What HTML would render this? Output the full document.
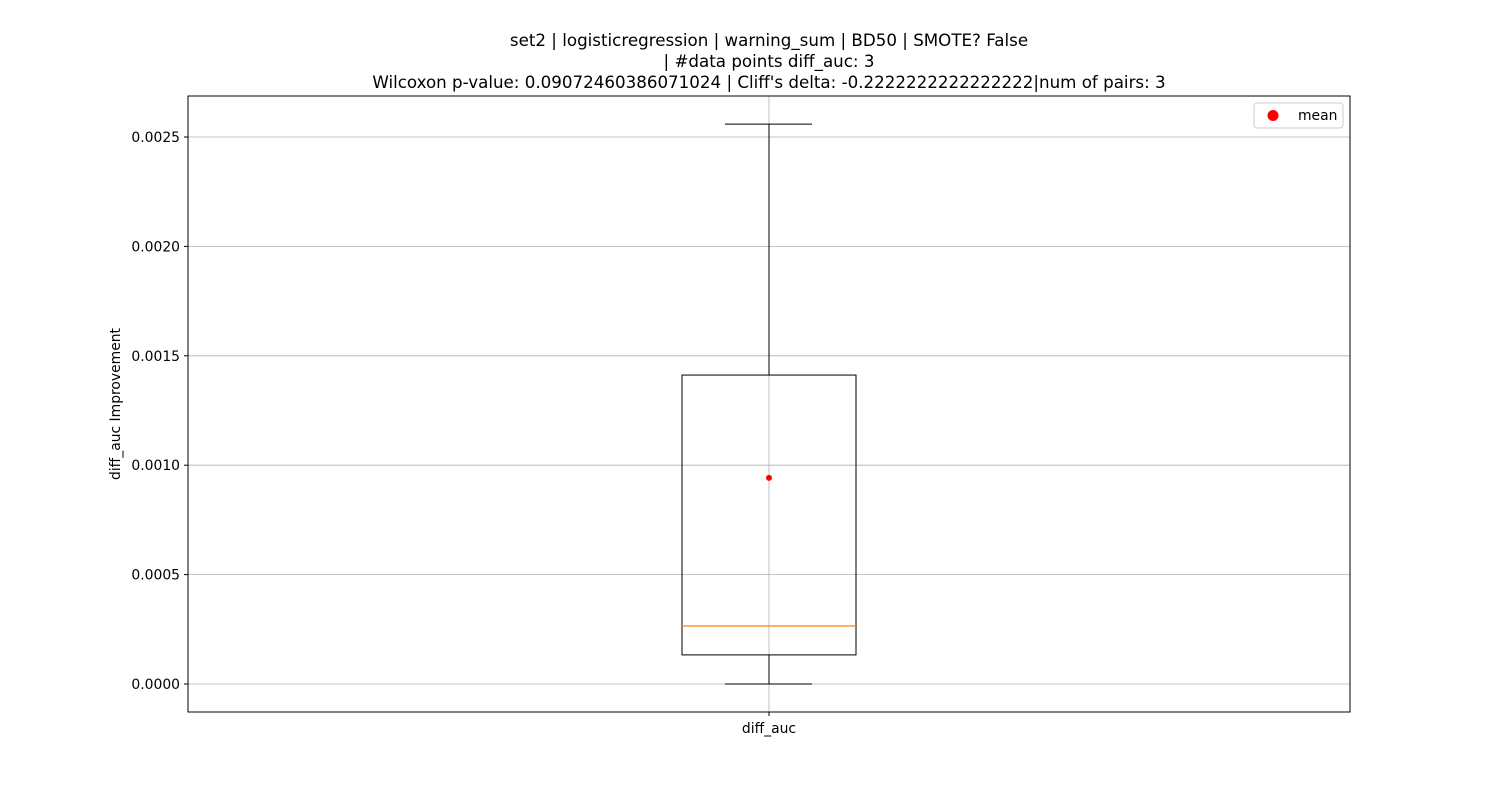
<!DOCTYPE html>
<html><head><meta charset="utf-8"><style>
body{margin:0;background:#fff;}
svg{display:block;font-family:"DejaVu Sans","Liberation Sans",sans-serif;}
</style></head><body>
<svg id="chart" width="1500" height="800">
<text x="769" y="46" text-anchor="middle" font-size="16.7">set2 | logisticregression | warning_sum | BD50 | SMOTE? False</text>
<text x="769" y="67" text-anchor="middle" font-size="16.7">| #data points diff_auc: 3</text>
<text x="769" y="88" text-anchor="middle" font-size="16.7">Wilcoxon p-value: 0.09072460386071024 | Cliff's delta: -0.2222222222222222|num of pairs: 3</text>
<g id="grid"></g>
<g id="marks"></g>
<rect x="188" y="96" width="1162" height="616" fill="none" stroke="#000" stroke-width="1"/>
<text x="769" y="733" text-anchor="middle" font-size="13.9">diff_auc</text>
<text transform="translate(120,404) rotate(-90)" text-anchor="middle" font-size="13.9">diff_auc Improvement</text>
<g>
<rect x="1254" y="103" width="89" height="25" rx="3" fill="#fff" stroke="#ccc"/>
<circle cx="1273" cy="115.5" r="5.5" fill="#ff0000"/>
<text x="1298" y="120" font-size="13.9">mean</text>
</g>
</svg>
<script>
const yTicks=[0,0.0005,0.001,0.0015,0.002,0.0025];
const yTickLabels=["0.0000","0.0005","0.0010","0.0015","0.0020","0.0025"];
const whiskerLow=[0];
const q1=[0.000133];
const median=[0.000265];
const q3=[0.001412];
const whiskerHigh=[0.002559];
const means=[0.000942];
const categories=["diff_auc"];
const NS="http://www.w3.org/2000/svg";
function y(v){return 684-(v/0.0025)*547;}
function x(i){return 769+i*0;}
function mk(t,a,p){const e=document.createElementNS(NS,t);for(const k in a)e.setAttribute(k,a[k]);p.appendChild(e);return e;}
const g=document.getElementById('grid'),m=document.getElementById('marks');
yTicks.forEach((v,i)=>{
 const l=mk('line',{x1:188,x2:1350,y1:y(v),y2:y(v),stroke:'#b0b0b0','stroke-width':0.8},g);
 
 
 const t=mk('line',{x1:184,x2:188,y1:y(v),y2:y(v),stroke:'#000'},g);
 
 
 const tx=mk('text',{x:180,y:y(v)+5,'text-anchor':'end','font-size':13.9},g);
 tx.textContent=yTickLabels[i];
 
 
});
const vg=mk('line',{x1:769,x2:769,y1:96,y2:712,stroke:'#b0b0b0','stroke-width':0.8},g);


mk('line',{x1:769,x2:769,y1:712,y2:716,stroke:'#000'},g);
categories.forEach((c,i)=>{
 const cx=x(i);
 const w1=mk('line',{x1:cx,x2:cx,y1:y(q3[i]),y2:y(whiskerHigh[i]),stroke:'#000'},m);
 
 
 const w2=mk('line',{x1:cx,x2:cx,y1:y(q1[i]),y2:y(whiskerLow[i]),stroke:'#000'},m);
 
 
 const c1=mk('line',{x1:cx-44,x2:cx+43,y1:y(whiskerHigh[i]),y2:y(whiskerHigh[i]),stroke:'#000'},m);
 
 
 const c2=mk('line',{x1:cx-44,x2:cx+43,y1:y(whiskerLow[i]),y2:y(whiskerLow[i]),stroke:'#000'},m);
 
 
 const b=mk('rect',{x:cx-87,y:y(q3[i]),width:174,height:y(q1[i])-y(q3[i]),fill:'none',stroke:'#000'},m);
 
 
 const md=mk('line',{x1:cx-87,x2:cx+87,y1:y(median[i]),y2:y(median[i]),stroke:'#ff7f0e','stroke-width':1.2},m);
 
 
 const mn=mk('circle',{cx:cx,cy:y(means[i]),r:3,fill:'#ff0000'},m);
 
 
});
</script>
</body></html>
